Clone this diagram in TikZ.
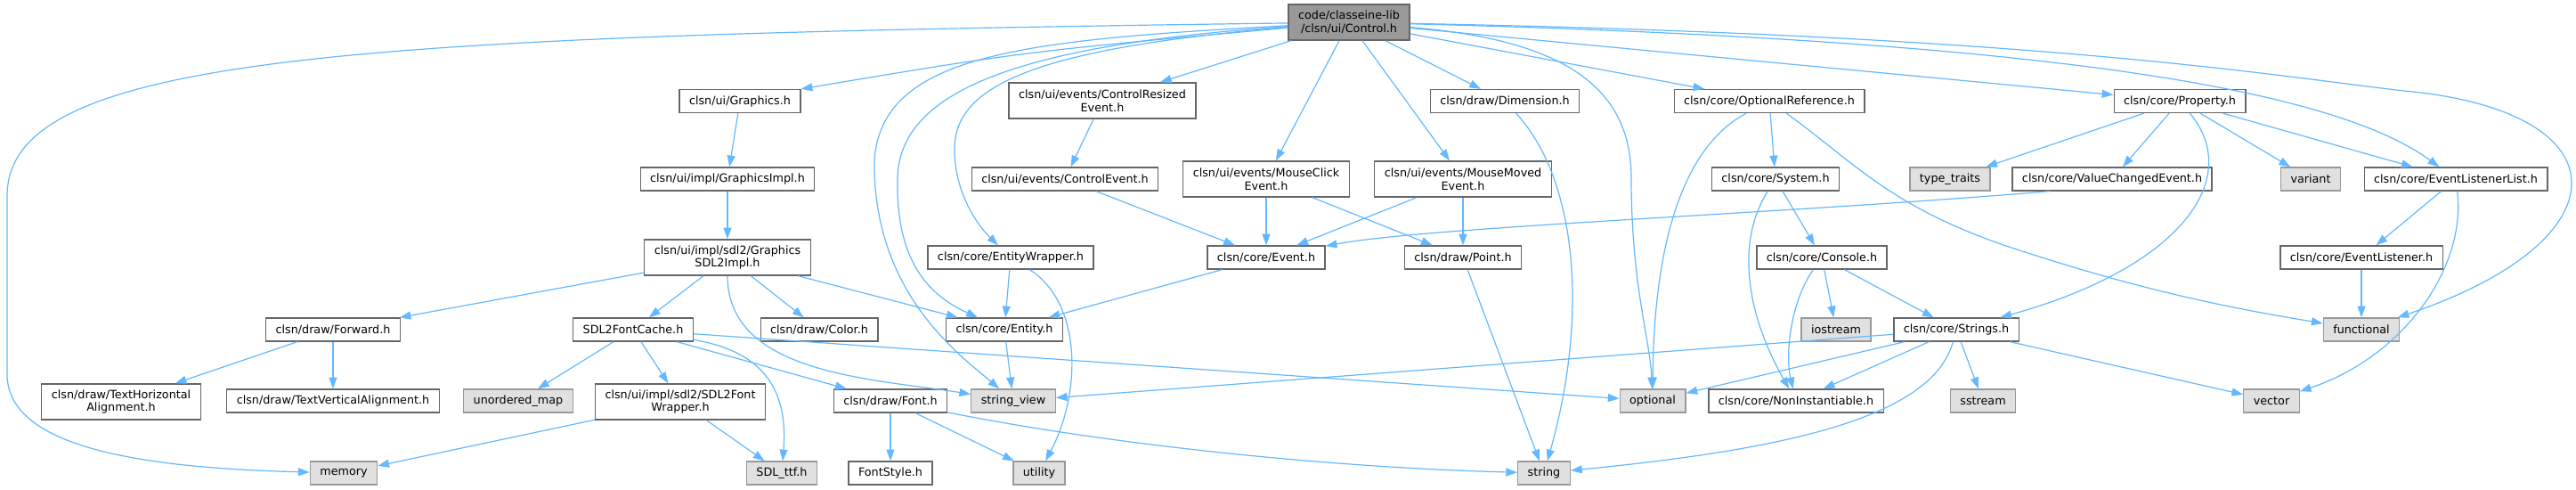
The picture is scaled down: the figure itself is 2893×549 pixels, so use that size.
\documentclass[tikz,border=0pt]{standalone}
\usepackage{fontspec}
\setmainfont{DejaVu Sans}
\usepackage{tikz}
\usetikzlibrary{arrows.meta}
\definecolor{edgeblue}{HTML}{63B8FF}
\definecolor{boxline}{HTML}{666666}
\definecolor{sysline}{HTML}{999999}
\definecolor{sysfill}{HTML}{E0E0E0}
\definecolor{rootfill}{HTML}{999999}

\begin{document}
\begin{tikzpicture}[x=1pt,y=-1pt,
  hdr/.style={draw=boxline, fill=white, line width=1.3pt, inner xsep=11pt, inner ysep=2pt,
    minimum height=26pt, align=center, font=\fontsize{12.75}{14.7}\selectfont},
  two/.style={minimum height=40pt},
  sys/.style={hdr, draw=sysline, fill=sysfill},
  root/.style={hdr, two, fill=rootfill},
  dep/.style={draw=edgeblue, line width=1.2pt, -{Triangle[length=12.75pt,width=9pt]}}]
\useasboundingbox (0,0) rectangle (2893,549);

\node[root] (control) at (1515,25) {code/classeine-lib\\/clsn/ui/Control.h};

\node[hdr] (graphics) at (831,113.5) {clsn/ui/Graphics.h};
\node[hdr, two] (resized) at (1238,113) {clsn/ui/events/ControlResized\\Event.h};
\node[hdr] (dimension) at (1690,113.5) {clsn/draw/Dimension.h};
\node[hdr] (optref) at (1987,113.5) {clsn/core/OptionalReference.h};
\node[hdr] (property) at (2448,113.5) {clsn/core/Property.h};

\node[hdr] (gimpl) at (817,201) {clsn/ui/impl/GraphicsImpl.h};
\node[hdr] (ctrlevent) at (1196,201) {clsn/ui/events/ControlEvent.h};
\node[hdr, two] (mouseclick) at (1422,201) {clsn/ui/events/MouseClick\\Event.h};
\node[hdr, two] (mousemoved) at (1643,201) {clsn/ui/events/MouseMoved\\Event.h};
\node[hdr] (system) at (1994,201) {clsn/core/System.h};
\node[sys] (typetraits) at (2190,201) {type\_traits};
\node[hdr] (valuechanged) at (2372,201) {clsn/core/ValueChangedEvent.h};
\node[sys] (variant) at (2595,201) {variant};
\node[hdr] (evlistlist) at (2758,201) {clsn/core/EventListenerList.h};

\node[hdr, two] (gsdl2) at (817,289) {clsn/ui/impl/sdl2/Graphics\\SDL2Impl.h};
\node[hdr] (entitywrapper) at (1135,289) {clsn/core/EntityWrapper.h};
\node[hdr] (event) at (1422,289) {clsn/core/Event.h};
\node[hdr] (point) at (1643,289) {clsn/draw/Point.h};
\node[hdr] (console) at (2046,289) {clsn/core/Console.h};
\node[hdr] (evlistener) at (2652,289) {clsn/core/EventListener.h};

\node[hdr] (forward) at (374,370) {clsn/draw/Forward.h};
\node[hdr] (fontcache) at (711,370) {SDL2FontCache.h};
\node[hdr] (color) at (920,370) {clsn/draw/Color.h};
\node[hdr] (entity) at (1128,370) {clsn/core/Entity.h};
\node[sys] (iostream) at (2062,370) {iostream};
\node[hdr] (strings) at (2197,370) {clsn/core/Strings.h};
\node[sys] (functional) at (2652,370) {functional};

\node[hdr, two] (thalign) at (136,451) {clsn/draw/TextHorizontal\\Alignment.h};
\node[hdr] (tvalign) at (374,450) {clsn/draw/TextVerticalAlignment.h};
\node[sys] (unorderedmap) at (582,450) {unordered\_map};
\node[hdr, two] (fontwrapper) at (764,451) {clsn/ui/impl/sdl2/SDL2Font\\Wrapper.h};
\node[hdr] (font) at (1000,450) {clsn/draw/Font.h};
\node[sys] (stringview) at (1138,450) {string\_view};
\node[sys] (optional) at (1856,450) {optional};
\node[hdr] (noninst) at (2017,450) {clsn/core/NonInstantiable.h};
\node[sys] (sstream) at (2227,450) {sstream};
\node[sys] (vector) at (2551,450) {vector};

\node[sys] (memory) at (386,531) {memory};
\node[sys] (sdlttf) at (878,531) {SDL\_ttf.h};
\node[hdr] (fontstyle) at (1000,531) {FontStyle.h};
\node[sys] (utility) at (1167,531) {utility};
\node[sys] (string) at (1734,531) {string};

% straight includes
\foreach \a/\b in {control/resized, control/mouseclick, control/mousemoved, control/dimension,
  control/optref, control/property, graphics/gimpl, gimpl/gsdl2, resized/ctrlevent,
  ctrlevent/event, mouseclick/event, mouseclick/point, mousemoved/event, mousemoved/point,
  event/entity, entitywrapper/entity, entity/stringview, gsdl2/forward, gsdl2/fontcache,
  gsdl2/color, gsdl2/entity, forward/thalign, forward/tvalign, fontcache/unorderedmap,
  fontcache/fontwrapper, fontcache/font, fontcache/optional, fontwrapper/memory,
  fontwrapper/sdlttf, font/fontstyle, font/utility, point/string, optref/system,
  system/console, console/iostream, console/strings, property/typetraits,
  property/valuechanged, property/variant, property/evlistlist, evlistlist/evlistener,
  evlistener/functional, strings/sstream, strings/vector, strings/noninst,
  strings/optional, strings/stringview}
  \draw[dep] (\a) -- (\b);

% curved includes
\draw[dep] (control) .. controls (400,40) and (8,60) .. (8,220) -- (8,420)
  .. controls (8,500) and (150,525) .. (memory);
\draw[dep] (control) .. controls (1150,58) .. (graphics.north east);
\draw[dep] (control) .. controls (1150,45) and (990,60) .. (982,180)
  .. controls (980,330) and (1080,400) .. (stringview);
\draw[dep] (control) .. controls (1150,50) and (1010,100) .. (1008,200)
  .. controls (1006,290) and (1040,330) .. (entity);
\draw[dep] (control) .. controls (1150,55) and (1070,100) .. (1072,170)
  .. controls (1073,220) and (1100,255) .. (entitywrapper);
\draw[dep] (control) .. controls (1760,45) and (1832,100) .. (1832,200)
  .. controls (1832,320) and (1853,380) .. (optional);
\draw[dep] (control) .. controls (2300,45) and (2620,100) .. (evlistlist);
\draw[dep] (control) .. controls (2300,40) and (2550,85) .. (2700,102)
  .. controls (2950,125) and (2950,270) .. (functional);
\draw[dep] (gsdl2) .. controls (817,420) and (980,425) .. (stringview);
\draw[dep] (fontcache) .. controls (860,395) and (885,440) .. (sdlttf);
\draw[dep] (font) .. controls (1250,500) and (1500,525) .. (string);
\draw[dep] (entitywrapper) .. controls (1215,340) and (1215,440) .. (utility);
\draw[dep] (dimension) .. controls (1770,200) and (1785,350) .. (string);
\draw[dep] ([xshift=-70pt]valuechanged.south) .. controls (2000,240) and (1600,255) .. (event);
\draw[dep] (optref) .. controls (1880,170) and (1857,300) .. (optional);
\draw[dep] (optref) .. controls (2080,180) and (2120,230) .. (2250,275)
  .. controls (2400,325) and (2500,345) .. (functional);
\draw[dep] (system) .. controls (1950,270) and (1960,350) .. (noninst);
\draw[dep] (console) .. controls (2010,340) and (2005,400) .. (noninst);
\draw[dep] (property) .. controls (2520,200) and (2450,300) .. (strings);
\draw[dep] (evlistlist) .. controls (2770,300) and (2700,400) .. (vector);
\draw[dep] (strings) .. controls (2170,470) and (2000,505) .. (string);
\end{tikzpicture}
\end{document}
